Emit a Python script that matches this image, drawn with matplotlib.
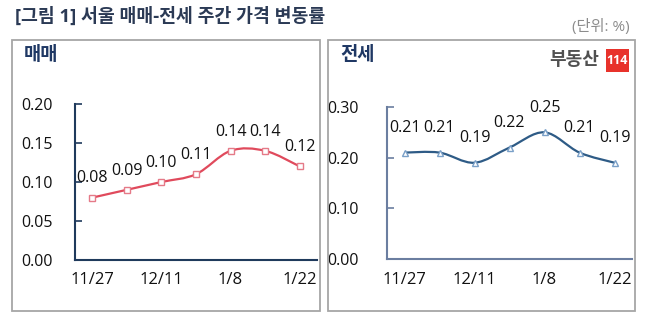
import matplotlib
matplotlib.use("Agg")
import matplotlib.pyplot as plt
from matplotlib.path import Path
from matplotlib.patches import PathPatch, Rectangle
import numpy as np

plt.rcParams['font.family'] = ['Open Sans', 'Noto Sans CJK KR', 'DejaVu Sans']

dates = ['11/27', '12/4', '12/11', '12/18', '1/8', '1/15', '1/22']
shown_ticks = [0, 2, 4, 6]
sale = [0.08, 0.09, 0.10, 0.11, 0.14, 0.14, 0.12]
jeonse = [0.21, 0.21, 0.19, 0.22, 0.25, 0.21, 0.19]


def smooth_path(xs, ys, k=1 / 6):
    # bezier control points like Excel's smoothed line
    verts = [(xs[0], ys[0])]
    codes = [Path.MOVETO]
    n = len(xs)
    for i in range(n - 1):
        x0, y0 = xs[max(i - 1, 0)], ys[max(i - 1, 0)]
        x1, y1 = xs[i], ys[i]
        x2, y2 = xs[i + 1], ys[i + 1]
        x3, y3 = xs[min(i + 2, n - 1)], ys[min(i + 2, n - 1)]
        c1 = (x1 + (x2 - x0) * k, y1 + (y2 - y0) * k)
        c2 = (x2 - (x3 - x1) * k, y2 - (y3 - y1) * k)
        verts += [c1, c2, (x2, y2)]
        codes += [Path.CURVE4] * 3
    return Path(verts, codes)


def draw_panel(ax, vals, ymax, yticks, line_c, edge_c, marker, spine_c, label_off, pad):
    x = np.arange(len(vals))
    ax.add_patch(PathPatch(smooth_path(x, vals), fill=False, edgecolor=line_c, lw=1.6,
                           zorder=2))
    ax.plot(x, vals, ls='none', marker=marker, ms=5, mfc='white', mec=edge_c, mew=1.0,
            zorder=3)
    for i, v in enumerate(vals):
        ax.annotate(f'{v:.2f}', (i, v), xytext=(0, label_off), textcoords='offset points',
                    ha='center', va='bottom', fontsize=11.5, color='#111111')
    ax.set_xlim(-0.5, len(vals) - 0.5)
    ax.set_ylim(0, ymax)
    ax.set_yticks(yticks)
    ax.set_yticklabels([f'{t:.2f}' for t in yticks])
    ax.set_xticks(shown_ticks)
    ax.set_xticklabels([dates[i] for i in shown_ticks])
    for s in ['top', 'right']:
        ax.spines[s].set_visible(False)
    for s in ['left', 'bottom']:
        ax.spines[s].set_color(spine_c)
        ax.spines[s].set_linewidth(1.5)
    ax.tick_params(axis='y', direction='in', length=5, width=1.2, color=spine_c,
                   labelsize=11.5, pad=pad, labelcolor='#111111')
    ax.tick_params(axis='x', length=0, labelsize=12, pad=9, labelcolor='#111111')
    ax.patch.set_visible(False)


fig = plt.figure(figsize=(6.55, 3.26), dpi=100)

# panel boxes
fig.patches.append(Rectangle((12 / 655, 1 - 311 / 326), 308 / 655, 271 / 326,
                             transform=fig.transFigure, fill=False, ec='#a6a6a6', lw=1.3))
fig.patches.append(Rectangle((328 / 655, 1 - 311 / 326), 307 / 655, 271 / 326,
                             transform=fig.transFigure, fill=False, ec='#a6a6a6', lw=1.3))

ax1 = fig.add_axes([75 / 655, 1 - 260 / 326, 242 / 655, 156 / 326])
draw_panel(ax1, sale, 0.20, [0, 0.05, 0.10, 0.15, 0.20], '#e04a5c', '#e57a88', 's',
           '#1f3a5c', 8, 16)

ax2 = fig.add_axes([387 / 655, 1 - 259 / 326, 245 / 655, 152 / 326])
draw_panel(ax2, jeonse, 0.30, [0, 0.10, 0.20, 0.30], '#2e5b86', '#7aa0c8', '^',
           '#6b7ea0', 12, 20)

fig.text(15 / 655, 1 - 16 / 326, '[그림 1] 서울 매매-전세 주간 가격 변동률', fontsize=13.2,
         fontweight='bold', color='#2b3a55', va='center', ha='left')
fig.text(630 / 655, 1 - 27 / 326, '(단위: %)', fontsize=11, color='#8c8c8c',
         va='center', ha='right')
fig.text(24 / 655, 1 - 55 / 326, '매매', fontsize=13.5, fontweight='bold', color='#1f3864',
         va='center', ha='left')
fig.text(340 / 655, 1 - 55 / 326, '전세', fontsize=13.5, fontweight='bold', color='#1f3864',
         va='center', ha='left')

# logo
fig.text(574 / 655, 1 - 60 / 326, '부동산', fontsize=13, fontweight='bold', color='#505050',
         va='center', ha='center')
fig.patches.append(Rectangle((606 / 655, 1 - 72 / 326), 23 / 655, 23 / 326,
                             transform=fig.transFigure, fc='#e8322b', ec='none'))
fig.text(617.5 / 655, 1 - 60.5 / 326, '114', fontsize=9, fontweight='bold', color='white',
         va='center', ha='center')

fig.savefig('out.png', dpi=100)
